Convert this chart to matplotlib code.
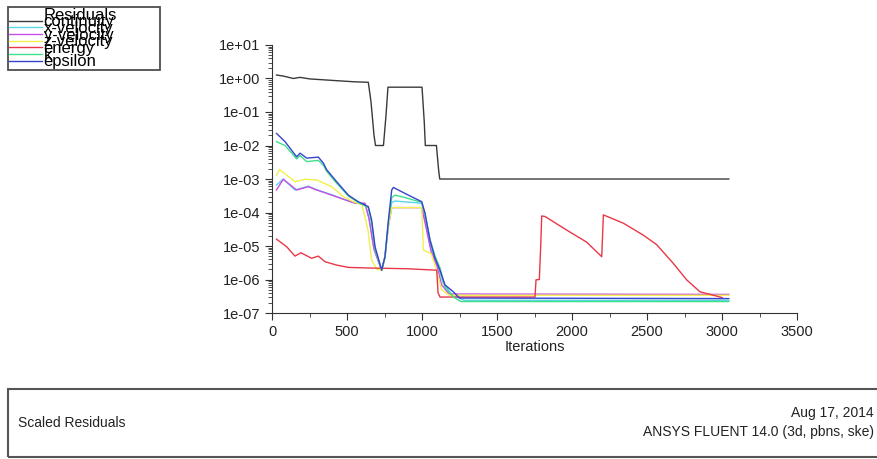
import numpy as np
import matplotlib
matplotlib.use("Agg")
import matplotlib.pyplot as plt
from matplotlib.ticker import FuncFormatter, LogLocator, MultipleLocator
from matplotlib.lines import Line2D
from matplotlib.patches import Rectangle

plt.rcParams['font.family'] = ['Liberation Sans', 'DejaVu Sans']

# residual histories (iteration, scaled residual)
cont_it = [30, 76, 142, 187, 253, 364, 542, 642, 660, 680, 690, 743, 760, 773,
           1000, 1015, 1022, 1096, 1110, 1118, 1250, 1260, 3045]
cont_val = [1.27, 1.18, 1.0, 1.08, 0.97, 0.9, 0.8, 0.77, 0.2, 0.02, 0.01, 0.01, 0.08, 0.55,
            0.55, 0.05, 0.01, 0.01, 0.002, 0.001, 0.001, 0.001, 0.001]

xvel_it = [30, 75, 153, 242, 298, 398, 487, 553, 620, 650, 680, 731, 753, 776, 798, 820,
           998, 1020, 1060, 1100, 1140, 1200, 1280, 3045]
xvel_val = [6.6e-4, 1e-3, 4.7e-4, 6.1e-4, 4.8e-4, 3.4e-4, 2.4e-4, 1.9e-4, 1.8e-4, 6e-5, 8e-6,
            1.9e-6, 4.5e-6, 4e-5, 2.0e-4, 2.2e-4, 1.9e-4, 6e-5, 8e-6, 3e-6, 8e-7, 3.5e-7,
            2.4e-7, 2.4e-7]

yvel_it = [30, 75, 164, 242, 298, 398, 487, 553, 620, 645, 680, 731, 753, 776, 798, 998,
           1020, 1060, 1100, 1130, 1180, 3045]
yvel_val = [4.7e-4, 9.8e-4, 4.7e-4, 5.9e-4, 4.7e-4, 3.3e-4, 2.4e-4, 1.9e-4, 1.9e-4, 7e-5, 8e-6,
            1.9e-6, 5e-6, 4e-5, 1.4e-4, 1.4e-4, 5e-5, 7e-6, 2.5e-6, 7e-7, 3.7e-7, 3.6e-7]

zvel_it = [30, 50, 109, 153, 220, 298, 398, 475, 542, 600, 640, 664, 700, 735, 753, 776, 798,
           998, 1009, 1060, 1098, 1130, 1180, 3045]
zvel_val = [1.3e-3, 1.9e-3, 1.2e-3, 8.3e-4, 9.8e-4, 9.4e-4, 5.9e-4, 3e-4, 2.1e-4, 1.7e-4, 3e-5,
            3.8e-6, 2e-6, 1.9e-6, 5e-6, 4e-5, 1.4e-4, 1.4e-4, 7.6e-6, 6e-6, 1.9e-6, 5e-7,
            3.4e-7, 3.4e-7]

energy_it = [30, 98, 153, 193, 264, 309, 353, 431, 509, 664, 900, 1098, 1107, 1120, 1753, 1760,
             1782, 1791, 1798, 1820, 1964, 2098, 2198, 2209, 2342, 2476, 2564, 2676, 2764,
             2853, 2942, 3000]
energy_val = [1.6e-5, 9.5e-6, 5e-6, 6.3e-6, 4.3e-6, 5e-6, 3.4e-6, 2.7e-6, 2.3e-6, 2.2e-6, 2.1e-6,
              1.9e-6, 4e-7, 3e-7, 3e-7, 9.8e-7, 1e-6, 9.5e-6, 7.9e-5, 7.6e-5, 3e-5, 1.3e-5,
              4.8e-6, 8.5e-5, 4.8e-5, 2.1e-5, 1.1e-5, 3e-6, 9.8e-7, 4.3e-7, 3.4e-7, 2.9e-7]

k_it = [30, 87, 164, 187, 231, 309, 342, 364, 431, 509, 575, 642, 664, 687, 731, 753, 776, 798,
        820, 887, 998, 1020, 1053, 1087, 1120, 1153, 1209, 1260, 3045]
k_val = [1.3e-2, 1.0e-2, 4.0e-3, 5.0e-3, 3.3e-3, 3.6e-3, 2.6e-3, 1.7e-3, 7.5e-4, 3.1e-4, 2.0e-4,
         1.4e-4, 5e-5, 8e-6, 1.9e-6, 4.5e-6, 5e-5, 2.8e-4, 3.3e-4, 2.8e-4, 2.0e-4, 9e-5, 1.6e-5,
         5e-6, 2.2e-6, 6e-7, 3e-7, 2.2e-7, 2.2e-7]

eps_it = [30, 87, 164, 187, 231, 309, 342, 364, 431, 509, 575, 642, 664, 687, 731, 753, 776, 798,
          809, 887, 998, 1020, 1053, 1087, 1120, 1153, 1209, 1250, 3045]
eps_val = [2.3e-2, 1.3e-2, 4.6e-3, 5.9e-3, 4.2e-3, 4.5e-3, 3e-3, 1.9e-3, 8.3e-4, 3.3e-4, 2.1e-4,
           1.5e-4, 6e-5, 9.5e-6, 1.9e-6, 4.8e-6, 6e-5, 4.7e-4, 5.6e-4, 3.7e-4, 2.1e-4, 9.6e-5,
           1.5e-5, 4.3e-6, 1.9e-6, 6.9e-7, 4.3e-7, 2.8e-7, 2.7e-7]

labels = ["continuity", "x-velocity", "y-velocity", "z-velocity", "energy", "k", "epsilon"]
colors = ["#3a3a3a", "#5ad6e6", "#c84ee8", "#f2f04a", "#e83848", "#3ee08a", "#3644cc"]

fig = plt.figure(figsize=(8.78, 4.59), dpi=100)
ax = fig.add_axes([0.3098, 0.318, 0.598, 0.584])

series = [(cont_it, cont_val), (xvel_it, xvel_val), (yvel_it, yvel_val), (zvel_it, zvel_val),
          (energy_it, energy_val), (k_it, k_val), (eps_it, eps_val)]
for (it, val), lab, c in zip(series, labels, colors):
    ax.plot(it, val, color=c, lw=1.0, label=lab)

ax.set_yscale('log')
ax.set_ylim(1e-7, 1e1)
ax.set_xlim(0, 3500)
ax.xaxis.set_major_locator(MultipleLocator(500))
ax.xaxis.set_minor_locator(MultipleLocator(250))
ax.yaxis.set_major_locator(LogLocator(base=10, numticks=20))
ax.yaxis.set_minor_locator(LogLocator(base=10, subs=np.arange(2, 10), numticks=20))
ax.yaxis.set_major_formatter(FuncFormatter(lambda v, p: f"{v:.0e}"))
ax.spines['top'].set_visible(False)
ax.spines['right'].set_visible(False)
for s in ['left', 'bottom']:
    ax.spines[s].set_color('#333333')
ax.tick_params(axis='both', which='major', labelsize=10.5, length=5, color='#333333',
               labelcolor='#222222')
ax.tick_params(axis='both', which='minor', length=3, color='#333333')
ax.set_xlabel("Iterations", fontsize=10.5, color='#222222', labelpad=1)

# legend with overlapping rows like the Fluent window
handles = [Line2D([], [], color='none')] + ax.get_lines()
names = ["Residuals"] + labels
leg = fig.legend(handles, names, loc='upper left', bbox_to_anchor=(0.009, 0.985, 0.173, 0),
                 mode='expand', fontsize=12, labelspacing=-0.5, handlelength=2.0,
                 handletextpad=0.1, borderpad=0.05, borderaxespad=0, fancybox=False,
                 frameon=True)
leg.get_frame().set_edgecolor('#222222')
leg.get_frame().set_linewidth(1.3)

# bottom info box
fig.patches.append(Rectangle((0.009, 0.005), 1.0, 0.148, transform=fig.transFigure,
                             fill=False, edgecolor='#555555', lw=1.5))
fig.text(0.02, 0.079, "Scaled Residuals", fontsize=10, va='center', color='#222222')
fig.text(0.995, 0.1, "Aug 17, 2014", fontsize=10, va='center', ha='right', color='#222222')
fig.text(0.995, 0.058, "ANSYS FLUENT 14.0 (3d, pbns, ske)", fontsize=10, va='center',
         ha='right', color='#222222')

fig.savefig("out.png", dpi=100)
